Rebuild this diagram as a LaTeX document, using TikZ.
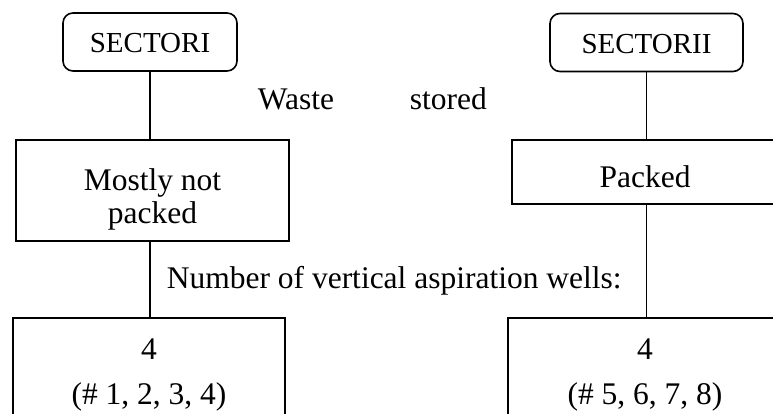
\documentclass[tikz,border=0pt]{standalone}
\usepackage{fontspec}
\setmainfont{Liberation Serif}
\usepackage{tikz}
\usetikzlibrary{positioning,calc}

\begin{document}
\begin{tikzpicture}[x=1pt, y=-1pt, line width=1.6pt,
    sectorbox/.style={draw, rounded corners=10pt, minimum height=58pt, inner sep=0pt,
      text height=22pt, text depth=0pt, font=\fontsize{29}{34}\selectfont},
    sitebox/.style={draw, align=center, inner sep=0pt, font=\fontsize{31.5}{33}\selectfont},
    note/.style={inner sep=0pt, font=\fontsize{31.5}{33}\selectfont}]
    \useasboundingbox (0,0) rectangle (773,414);
    \clip (0,0) rectangle (773,414);

    % Sectors
    \node [sectorbox, minimum width=174pt] (sec1) at (150,42) {SECTORI};
    \node [sectorbox, minimum width=193pt] (sec2) at (646.5,42.5) {SECTORII};

    % Waste stored
    \node [sitebox, minimum width=273pt, minimum height=101pt] (store1) at (152.5,190.5) {\rule{0pt}{39.5pt}Mostly not\\packed};
    \node [sitebox, minimum width=266pt, minimum height=64pt, text height=32pt, text depth=0pt] (store2) at (645,172) {Packed};

    % Wells
    \node [sitebox, anchor=north, minimum width=272pt, minimum height=114pt] (wells1) at (149,317) {4\\[12pt](\# 1, 2, 3, 4)};
    \node [sitebox, anchor=north, minimum width=274pt, minimum height=114pt] (wells2) at (645,317) {4\\[12pt](\# 5, 6, 7, 8)};

    % Labels
    \node [note, anchor=base west] (waste) at (257,110) {Waste\hspace{76pt}stored};
    \node [note, anchor=base west] (number) at (166,288) {Number of vertical aspiration wells:};

    % Links
    \draw (sec1.south) -- (sec1.south |- store1.north);
    \draw (sec1.south |- store1.south) -- (sec1.south |- wells1.north);
    \draw (sec2.south) -- (sec2.south |- store2.north);
    \draw (sec2.south |- store2.south) -- (sec2.south |- wells2.north);
\end{tikzpicture}
\end{document}
